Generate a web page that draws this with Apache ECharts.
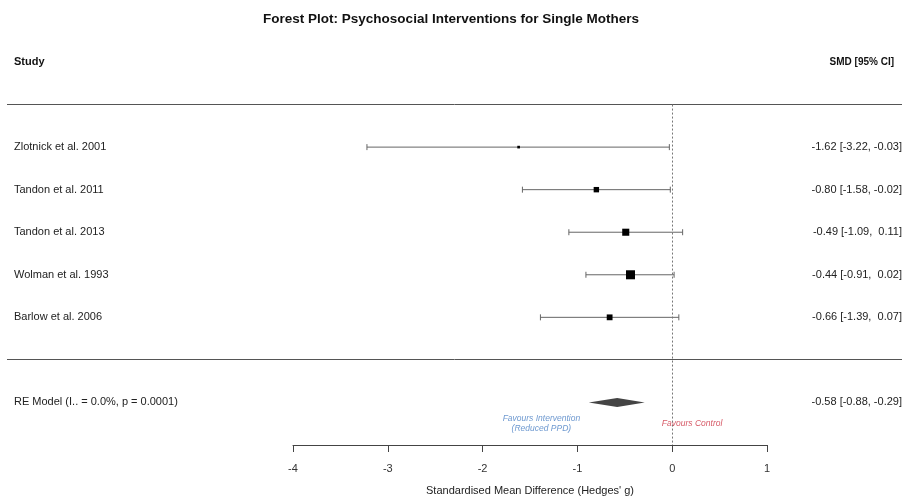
<!DOCTYPE html>
<html>
<head>
<meta charset="utf-8">
<script src="https://cdn.jsdelivr.net/npm/echarts@6/dist/echarts.min.js"></script>
<style>
  html, body { margin: 0; padding: 0; background: #fff; }
  #main { width: 902px; height: 497px; }
</style>
</head>
<body>
<div id="main"></div>
<script>
// study data
var studies = ['Zlotnick et al. 2001', 'Tandon et al. 2011', 'Tandon et al. 2013', 'Wolman et al. 1993', 'Barlow et al. 2006'];
var smd = [-1.62, -0.80, -0.49, -0.44, -0.66];
var ciLow = [-3.22, -1.58, -1.09, -0.91, -1.39];
var ciHigh = [-0.03, -0.02, 0.11, 0.02, 0.07];
var weights = [3.5, 14.5, 24.8, 40.4, 16.7]; // % (approx, from box sizes)

var reLabel = 'RE Model (I.. = 0.0%, p = 0.0001)';
var reEst = -0.58, reLow = -0.88, reHigh = -0.29;

var ROW_RE = 7, ROW_SEP = 6, ROW_HEAD = -1;

function fmt(v) { return v.toFixed(2); }
function ciText(e, l, h) {
    return fmt(e) + ' [' + fmt(l) + ', ' + (' ' + fmt(h)).slice(-5) + ']';
}

var leftLabels = {}, rightLabels = {};
leftLabels[ROW_HEAD] = '{h|Study}';
rightLabels[ROW_HEAD] = '{hr|SMD [95% CI]}';
var studyData = [];
studies.forEach(function (s, i) {
    leftLabels[i + 1] = s;
    rightLabels[i + 1] = ciText(smd[i], ciLow[i], ciHigh[i]);
    studyData.push([i + 1, smd[i], ciLow[i], ciHigh[i], weights[i]]);
});
leftLabels[ROW_RE] = reLabel;
rightLabels[ROW_RE] = ciText(reEst, reLow, reHigh);

var chart = echarts.init(document.getElementById('main'));

var FONT = 'Liberation Sans, Arial, sans-serif';
var labelFont = { fontFamily: FONT, fontSize: 11, color: '#222' };

chart.setOption({
    animation: false,
    title: {
        text: 'Forest Plot: Psychosocial Interventions for Single Mothers',
        left: 'center',
        top: 7,
        textStyle: { fontFamily: FONT, fontSize: 13.5, fontWeight: 'bold', color: '#111' }
    },
    grid: { left: 293, right: 135, top: 62, height: 383, containLabel: false, outerBoundsMode: 'none' },
    xAxis: {
        type: 'value',
        min: -4,
        max: 1,
        interval: 1,
        position: 'bottom',
        name: "Standardised Mean Difference (Hedges' g)",
        nameLocation: 'middle',
        nameGap: 40,
        nameTextStyle: labelFont,
        axisLine: { onZero: false, lineStyle: { color: '#444', width: 1 } },
        axisTick: { length: 7, lineStyle: { color: '#444' } },
        axisLabel: Object.assign({ margin: 18 }, labelFont, { color: '#333' }),
        splitLine: { show: false }
    },
    yAxis: [
        {
            type: 'value', inverse: true, min: -1, max: 8, interval: 1,
            position: 'left',
            axisLine: { show: false }, axisTick: { show: false }, splitLine: { show: false },
            axisLabel: Object.assign({
                align: 'left', margin: 279,
                formatter: function (v) { return leftLabels[v] || ''; },
                rich: { h: { fontFamily: FONT, fontSize: 11, fontWeight: 'bold', color: '#111' } }
            }, labelFont)
        },
        {
            type: 'value', inverse: true, min: -1, max: 8, interval: 1,
            position: 'right',
            axisLine: { show: false }, axisTick: { show: false }, splitLine: { show: false },
            axisLabel: Object.assign({
                align: 'right', margin: 135,
                formatter: function (v) { return rightLabels[v] || ''; },
                rich: { hr: { fontFamily: FONT, fontSize: 10, fontWeight: 'bold', color: '#111', padding: [0, 8, 0, 0] } }
            }, labelFont)
        }
    ],
    series: [
        {
            type: 'custom',
            name: 'studies',
            data: studyData,
            encode: { x: [1, 2, 3], y: 0 },
            markLine: {
                silent: true,
                symbol: 'none',
                label: { show: false },
                lineStyle: { color: '#777', type: [2, 2], width: 1 },
                data: [[{ coord: [0, 0] }, { coord: [0, 8] }]]
            },
            renderItem: function (params, api) {
                var row = api.value(0);
                var pe = api.coord([api.value(1), row]);
                var pl = api.coord([api.value(2), row]);
                var ph = api.coord([api.value(3), row]);
                var y = pe[1];
                var s = 1.42 * Math.sqrt(api.value(4));
                var lineStyle = { stroke: '#666', lineWidth: 1 };
                return {
                    type: 'group',
                    children: [
                        { type: 'line', shape: { x1: pl[0], y1: y, x2: ph[0], y2: y }, style: lineStyle },
                        { type: 'line', shape: { x1: pl[0], y1: y - 3, x2: pl[0], y2: y + 3 }, style: lineStyle },
                        { type: 'line', shape: { x1: ph[0], y1: y - 3, x2: ph[0], y2: y + 3 }, style: lineStyle },
                        { type: 'rect', shape: { x: pe[0] - s / 2, y: y - s / 2, width: s, height: s }, style: { fill: '#000' } }
                    ]
                };
            }
        },
        {
            type: 'custom',
            name: 'RE model',
            data: [[ROW_RE, reEst, reLow, reHigh]],
            encode: { x: [1, 2, 3], y: 0 },
            renderItem: function (params, api) {
                var row = api.value(0);
                var pe = api.coord([api.value(1), row]);
                var pl = api.coord([api.value(2), row]);
                var ph = api.coord([api.value(3), row]);
                var y = pe[1], h = 4.5;
                return {
                    type: 'polygon',
                    shape: { points: [[pl[0], y], [pe[0], y - h], [ph[0], y], [pe[0], y + h]] },
                    style: { fill: '#444' }
                };
            }
        },
        {
            type: 'scatter',
            name: 'notes',
            symbolSize: 0,
            silent: true,
            data: [
                { value: [-1.38, 7.5], label: { color: '#4a80c4' }, text: 'Favours Intervention\n(Reduced PPD)' },
                { value: [0.21, 7.5], label: { color: '#cc3040' }, text: 'Favours Control' }
            ],
            label: {
                show: true,
                position: 'inside',
                formatter: function (p) { return p.data.text; },
                fontFamily: FONT,
                fontStyle: 'italic',
                fontSize: 8.5,
                lineHeight: 10,
                align: 'center'
            }
        }
    ]
});

// full-width separator rules at the header and summary rows
var ySep1 = chart.convertToPixel({ gridIndex: 0 }, [0, 0])[1];
var ySep2 = chart.convertToPixel({ gridIndex: 0 }, [0, ROW_SEP])[1];
chart.setOption({
    graphic: [ySep1, ySep2].map(function (y) {
        return {
            type: 'line',
            shape: { x1: 7, y1: Math.round(y) - 0.5, x2: 902, y2: Math.round(y) - 0.5 },
            style: { stroke: '#555', lineWidth: 1 }
        };
    })
});
</script>
</body>
</html>
